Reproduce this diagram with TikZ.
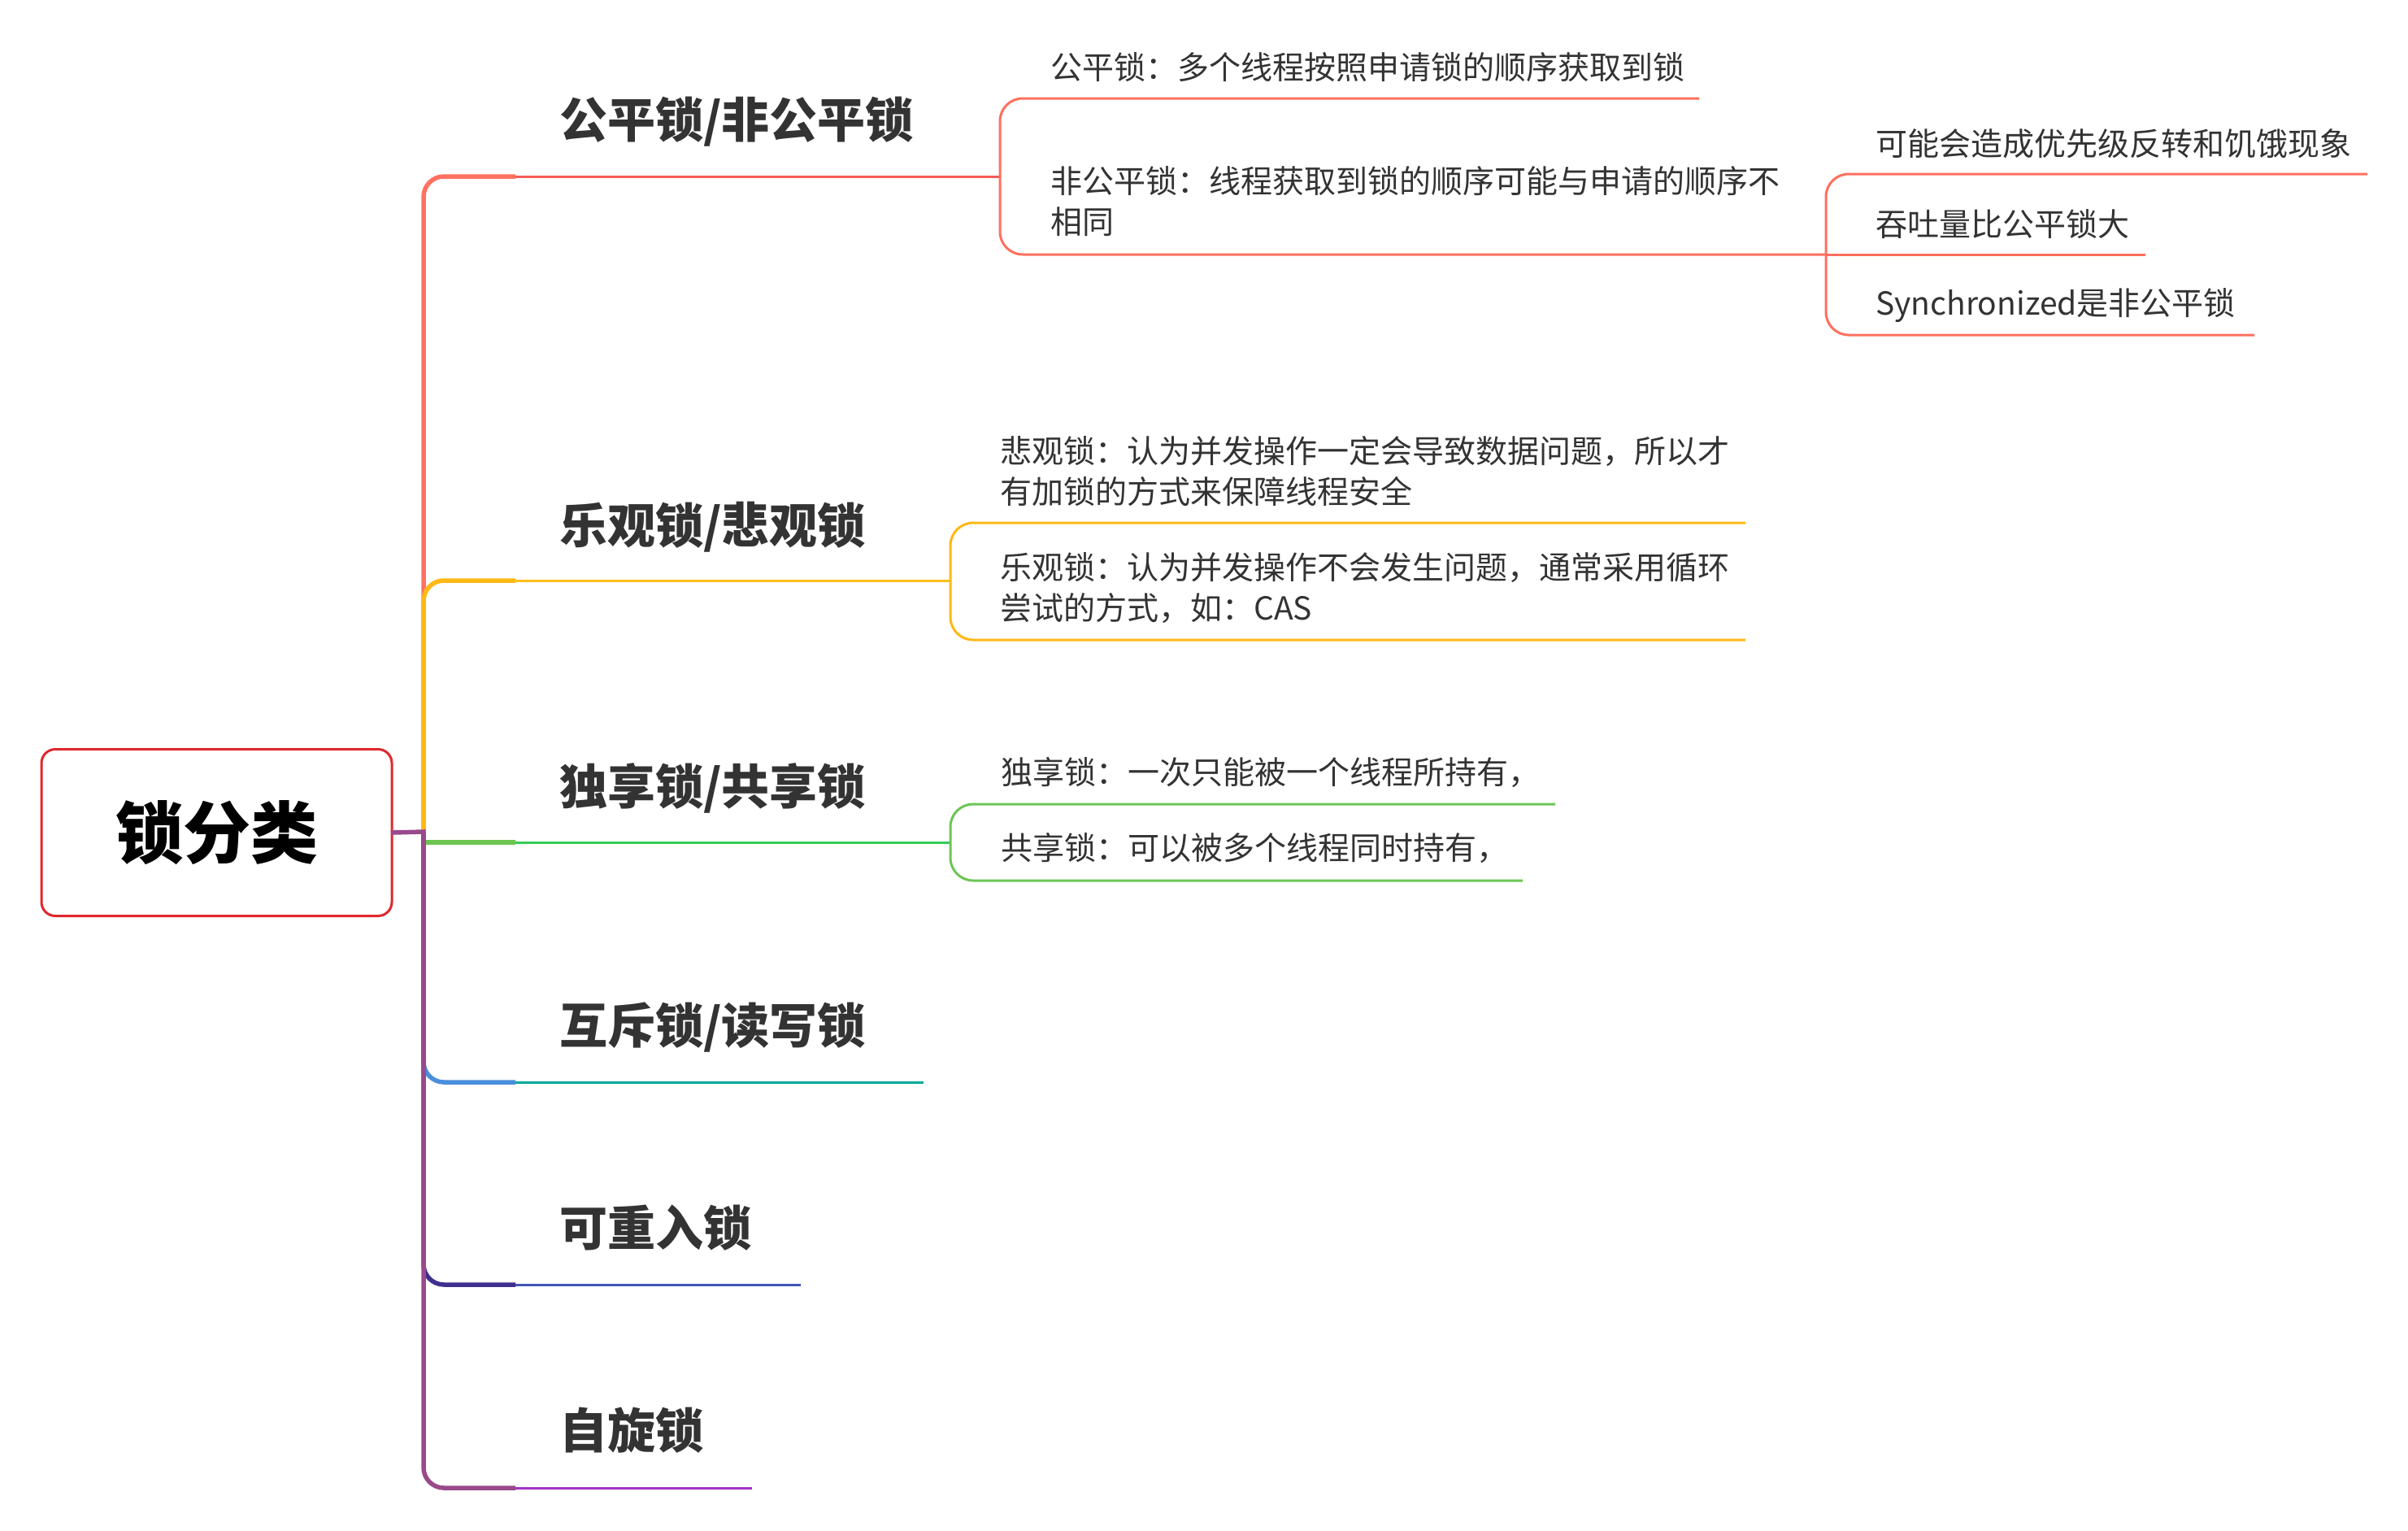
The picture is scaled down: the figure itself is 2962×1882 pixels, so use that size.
\documentclass[tikz,border=0pt]{standalone}
\usepackage{fontspec}
\setmainfont{Noto Sans CJK SC}
\definecolor{txt}{HTML}{333333}
\definecolor{rootred}{HTML}{E0282E}
\definecolor{cak}{HTML}{FF7262}
\definecolor{cat}{HTML}{F85A56}
\definecolor{cas}{HTML}{FF6F5E}
\definecolor{cbk}{HTML}{FFB814}
\definecolor{cbt}{HTML}{FFBE1A}
\definecolor{cck}{HTML}{6CC550}
\definecolor{cct}{HTML}{35CC55}
\definecolor{ccs}{HTML}{6CC655}
\definecolor{cdk}{HTML}{4A8EDB}
\definecolor{cdt}{HTML}{00A99B}
\definecolor{cek}{HTML}{3E2F8F}
\definecolor{cet}{HTML}{3F55B6}
\definecolor{cfk}{HTML}{994A8B}
\definecolor{cft}{HTML}{A433C3}
\begin{document}
\begin{tikzpicture}[x=1pt,y=-1pt,
  lbl/.style={font=\fontsize{59}{70}\selectfont\bfseries, text=txt, inner sep=0pt, anchor=west, text height=52pt, text depth=7pt},
  subtxt/.style={font=\fontsize{39}{50}\selectfont, text=txt, inner sep=0pt, anchor=west, text height=34.3pt, text depth=4.7pt},
  subml/.style={font=\fontsize{39}{50}\selectfont, text=txt, inner sep=0pt, anchor=base west, align=left},
  thk/.style={line width=5.5pt},
  thn/.style={line width=3pt},
  sbl/.style={line width=3pt, rounded corners=28pt}]
\useasboundingbox[fill=white] (0,0) rectangle (2962,1882);

% root
\node[draw=rootred, line width=3pt, rounded corners=17pt, minimum width=431pt, minimum height=205pt, inner sep=0pt, font=\fontsize{83}{90}\selectfont\bfseries, text height=73pt, text depth=10pt] (root) at (266.5,1024) {锁分类};

\coordinate (J) at (521,1023);
\coordinate (k1) at (634,217);  \coordinate (e1) at (1230,217);
\coordinate (k2) at (634,714);  \coordinate (e2) at (1169,714);
\coordinate (k3) at (634,1036); \coordinate (e3) at (1169,1036);
\coordinate (k4) at (634,1331); \coordinate (e4) at (1136,1331);
\coordinate (k5) at (634,1580); \coordinate (e5) at (985,1580);
\coordinate (k6) at (634,1830); \coordinate (e6) at (925,1830);

% main branches
\draw[thk, cak] (J) [rounded corners=25pt] -- (521,217) -- (k1);
\draw[thn, cat] (k1) -- (e1);
\draw[thk, cbk] (J) [rounded corners=25pt] -- (521,714) -- (k2);
\draw[thn, cbt] (k2) -- (e2);
\draw[thk, cck] (J) -- (521,1036) -- (k3);
\draw[thn, cct] (k3) -- (e3);
\draw[thk, cdk] (J) [rounded corners=25pt] -- (521,1331) -- (k4);
\draw[thn, cdt] (k4) -- (e4);
\draw[thk, cek] (J) [rounded corners=25pt] -- (521,1580) -- (k5);
\draw[thn, cet] (k5) -- (e5);
\draw[thk, cfk] (J) [rounded corners=25pt] -- (521,1830) -- (k6);
\draw[thn, cft] (k6) -- (e6);
\draw[thk, cfk, line cap=rect] (root.east) -- (J);

% labels
\node[lbl] (L1) at (688,147) {公平锁/非公平锁};
\node[lbl] (L2) at (688,646) {乐观锁/悲观锁};
\node[lbl] (L3) at (688,967) {独享锁/共享锁};
\node[lbl] (L4) at (688,1261) {互斥锁/读写锁};
\node[lbl] (L5) at (688,1510) {可重入锁};
\node[lbl] (L6) at (688,1759) {自旋锁};

% sub branch 1
\coordinate (a1) at (2090,121);
\coordinate (jb) at (2246,313);
\draw[sbl, cas] (a1) -- (1230,121) -- (1230,313) -- (jb);
\draw[thn, cas] (jb) -- (2639,313);
\draw[sbl, cas] (2912,214) -- (2246,214) -- (2246,412) -- (2773,412);
\node[subtxt] (S1a) at (1292,83) {公平锁：多个线程按照申请锁的顺序获取到锁};
\node[subml] (S1b) at (1292,287.8) {非公平锁：线程获取到锁的顺序可能与申请的顺序不\\相同};
\node[subtxt] (S1c) at (2307,177) {可能会造成优先级反转和饥饿现象};
\node[subtxt] (S1d) at (2307,276) {吞吐量比公平锁大};
\node[subtxt] (S1e) at (2307,373) {Synchronized是非公平锁};

% sub branch 2
\draw[sbl, cbk] (2147,643) -- (1169,643) -- (1169,787) -- (2147,787);
\node[subml] (S2a) at (1230,619.8) {悲观锁：认为并发操作一定会导致数据问题，所以才\\有加锁的方式来保障线程安全};
\node[subml] (S2b) at (1230,762.8) {乐观锁：认为并发操作不会发生问题，通常采用循环\\尝试的方式，如：CAS};

% sub branch 3
\draw[sbl, ccs] (1913,989) -- (1169,989) -- (1169,1083) -- (1873,1083);
\node[subtxt] (S3a) at (1231,950) {独享锁：一次只能被一个线程所持有，};
\node[subtxt] (S3b) at (1231,1043) {共享锁：可以被多个线程同时持有，};
\end{tikzpicture}
\end{document}
